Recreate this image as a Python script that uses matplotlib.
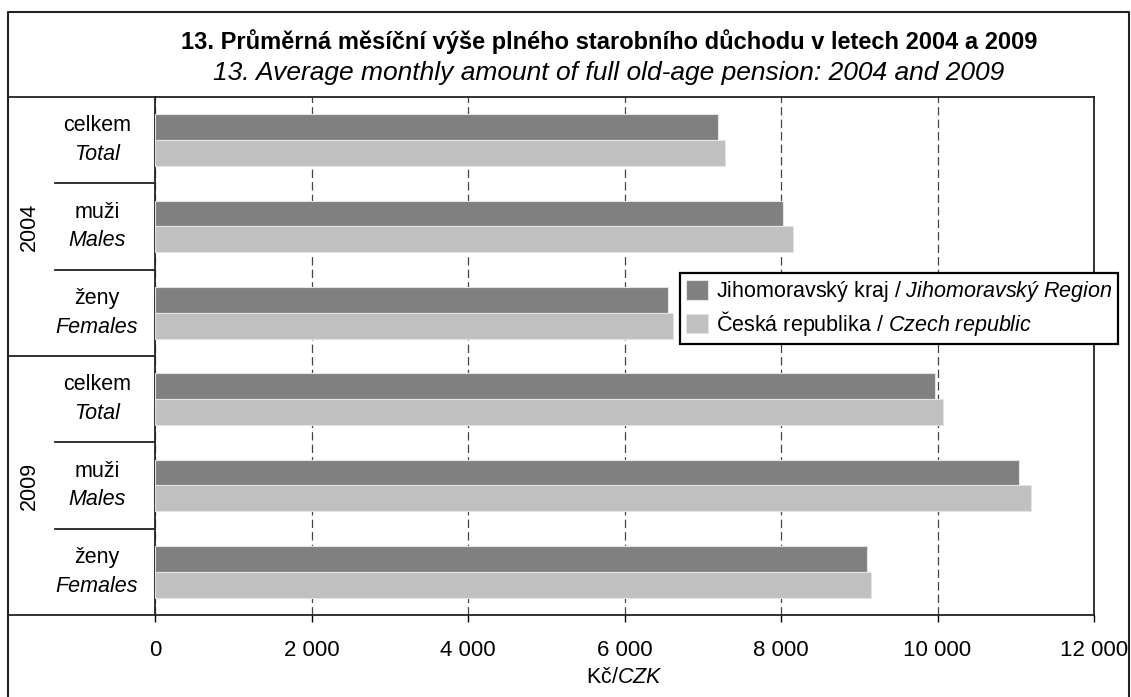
import matplotlib.pyplot as plt
import matplotlib.transforms as mtransforms
from matplotlib.lines import Line2D
from matplotlib.ticker import FuncFormatter

plt.rcParams['font.family'] = ['Liberation Sans', 'DejaVu Sans']
plt.rcParams['mathtext.fontset'] = 'custom'
plt.rcParams['mathtext.rm'] = 'Liberation Sans'
plt.rcParams['mathtext.it'] = 'Liberation Sans:italic'
plt.rcParams['lines.scale_dashes'] = False

W, H = 1131, 697

years = ["2004", "2009"]
groups_cz = ["celkem", "muži", "ženy"]
groups_en = ["Total", "Males", "Females"]
# Jihomoravský kraj, Česká republika (2004: celkem, muži, ženy; 2009: ...)
jmk = [7200, 8020, 6560, 9965, 11045, 9095]
cr = [7280, 8150, 6615, 10070, 11195, 9145]
series_labels = [
    r"Jihomoravský kraj / $\mathit{Jihomoravský\ Region}$",
    r"Česká republika / $\mathit{Czech\ republic}$",
]
colors = ["#808080", "#c0c0c0"]
xticks = [0, 2000, 4000, 6000, 8000, 10000, 12000]

title_cz = "13. Průměrná měsíční výše plného starobního důchodu v letech 2004 a 2009"
title_en = "13. Average monthly amount of full old-age pension: 2004 and 2009"


def fx(x):
    return x / W


def fy(y):
    return 1 - y / H


fig = plt.figure(figsize=(W / 100, H / 100), dpi=100)
ax = fig.add_axes([fx(155), fy(615), (1094 - 155) / W, (615 - 97) / H])

pos = list(range(len(jmk)))
bh = 0.30
ax.barh([p - bh / 2 for p in pos], jmk, height=bh, color=colors[0],
        edgecolor="#e4e4e4", linewidth=0.8, label=series_labels[0], zorder=3)
ax.barh([p + bh / 2 for p in pos], cr, height=bh, color=colors[1],
        edgecolor="#e4e4e4", linewidth=0.8, label=series_labels[1], zorder=3)

ax.set_ylim(len(jmk) - 0.5, -0.5)
ax.set_xlim(0, 12000)
ax.set_xticks(xticks)
ax.xaxis.set_major_formatter(FuncFormatter(lambda v, p: f"{int(v):,}".replace(",", " ")))
ax.set_yticks([])
ax.tick_params(axis="x", direction="out", length=5, width=1, pad=13, labelsize=16)
ax.xaxis.grid(True, linestyle=(0, (6, 3)), linewidth=0.9, color="#444444", zorder=0)
ax.set_axisbelow(True)
for s in ax.spines.values():
    s.set_linewidth(1.3)
    s.set_color("#222222")

ax.set_xlabel(r"Kč/$\mathit{CZK}$", fontsize=15.5, labelpad=4)

# left-hand category labels
trans = mtransforms.blended_transform_factory(fig.transFigure, ax.transData)
for i in pos:
    ax.text(fx(97), i - 0.165, groups_cz[i % 3], transform=trans,
            ha="center", va="center", fontsize=15.5)
    ax.text(fx(97), i + 0.165, groups_en[i % 3], transform=trans,
            ha="center", va="center", fontsize=15.5, style="italic")

for k, yr in enumerate(years):
    ax.text(fx(29), 3 * k + 1, yr, transform=trans, rotation=90,
            ha="center", va="center", fontsize=15.5)

# separators in the label area
for b in [-0.5, 2.5, 5.5]:
    fig.add_artist(Line2D([fx(8), fx(155)], [b, b], transform=trans,
                          color="#222222", lw=1.3))
for b in [0.5, 1.5, 3.5, 4.5]:
    fig.add_artist(Line2D([fx(55), fx(155)], [b, b], transform=trans,
                          color="#222222", lw=1.3))

# outer frame
fig.add_artist(Line2D([fx(8), fx(8), fx(1129), fx(1129)],
                      [fy(700), fy(12), fy(12), fy(700)],
                      transform=fig.transFigure, color="#222222", lw=1.5))

fig.text(fx(609), fy(42), title_cz, ha="center", va="center",
         fontsize=17, weight="bold")
fig.text(fx(609), fy(73), title_en, ha="center", va="center",
         fontsize=19, style="italic")

leg = ax.legend(loc="upper left", bbox_to_anchor=(fx(680), fy(273)),
                bbox_transform=fig.transFigure, borderaxespad=0,
                fontsize=15.5, frameon=True, fancybox=False, framealpha=1,
                edgecolor="black", handlelength=1.0, handleheight=1.0,
                handletextpad=0.35, labelspacing=0.2, borderpad=0.3)
leg.get_frame().set_linewidth(1.6)
leg.set_zorder(5)

fig.savefig("out.png", dpi=100)
